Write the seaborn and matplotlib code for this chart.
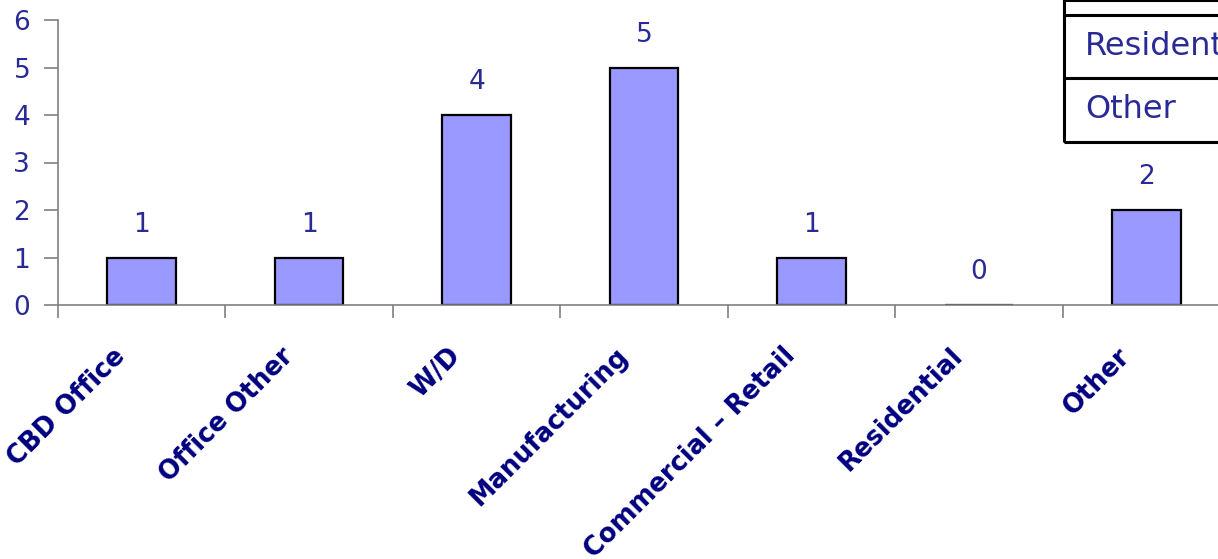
import matplotlib
matplotlib.use("Agg")
import matplotlib.pyplot as plt
import matplotlib.transforms as mtransforms
import seaborn as sns
import pandas as pd
from matplotlib.patches import Rectangle
from matplotlib.lines import Line2D

categories = ["CBD Office", "Office Other", "W/D", "Manufacturing",
              "Commercial – Retail", "Residential", "Other"]
counts = [1, 1, 4, 5, 1, 0, 2]
table_rows = ["Residential", "Other"]

navy = "#000080"
label_col = "#2a2a96"

sns.set_style("white")
plt.rcParams["font.family"] = ["DejaVu Sans"]

df = pd.DataFrame({"cat": categories, "n": counts})

fig = plt.figure(figsize=(12.18, 5.59), dpi=100)
ax = fig.add_axes([58 / 1218, 1 - 305 / 559, (1230 - 58) / 1218, (305 - 20) / 559])

sns.barplot(data=df, x="cat", y="n", order=categories, color="#9999FF",
            saturation=1, width=0.41, edgecolor="black", linewidth=1.6, ax=ax)

ax.set_xlim(-0.5, len(categories) - 0.5)
ax.set_ylim(0, 6)
ax.set_yticks(range(0, 7))
ax.set_xlabel("")
ax.set_ylabel("")

for s in ["top", "right"]:
    ax.spines[s].set_visible(False)
for s in ["left", "bottom"]:
    ax.spines[s].set_color("#808080")
    ax.spines[s].set_linewidth(1.2)
ax.spines["bottom"].set_zorder(5)

ax.tick_params(axis="y", direction="out", length=10, width=1.2, color="#808080",
               labelsize=19, labelcolor=label_col, pad=10, left=True)

# category ticks sit on the boundaries, labels in between
ax.set_xticks([i - 0.5 for i in range(len(categories) + 1)], minor=False)
ax.set_xticklabels([""] * (len(categories) + 1))
ax.tick_params(axis="x", direction="out", length=9, width=1.2, color="#808080", bottom=True)
ax.set_xticks(range(len(categories)), minor=True)
ax.set_xticklabels(categories, minor=True, rotation=45, ha="right", va="center",
                   rotation_mode="anchor", fontsize=18.5, fontweight="bold", color=navy)
ax.tick_params(axis="x", which="minor", length=0, pad=34)
shift = mtransforms.ScaledTranslation(-20 / 100, 0, fig.dpi_scale_trans)
for lab in ax.get_xticklabels(minor=True):
    lab.set_transform(lab.get_transform() + shift)

for i, v in enumerate(counts):
    ax.annotate(str(v), (i, v), xytext=(0, 33), textcoords="offset pixels",
                ha="center", va="center", fontsize=19, color=label_col)

# partial data table in the top right corner
x0 = 1064 / 1218
rows_y = [0, 15, 78, 142]
fig.patches.append(Rectangle((x0, 1 - 142 / 559), 1.0 - x0 + 0.01, 142 / 559,
                             transform=fig.transFigure, fill=False,
                             edgecolor="black", linewidth=2.2))
for y in rows_y[1:3]:
    fig.lines.append(Line2D([x0, 1.01], [1 - y / 559, 1 - y / 559],
                            transform=fig.transFigure, color="black", linewidth=2.2))
for k, name in enumerate(table_rows):
    yc = (rows_y[k + 1] + rows_y[k + 2]) / 2
    fig.text(1085 / 1218, 1 - yc / 559, name, ha="left", va="center",
             fontsize=23, color=label_col)

fig.savefig("out.png", dpi=100)
